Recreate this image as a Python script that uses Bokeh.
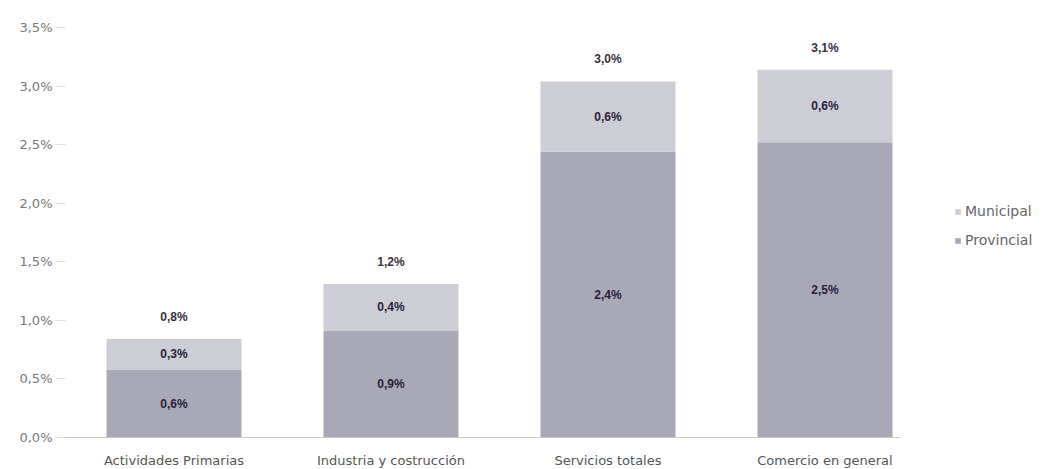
from bokeh.plotting import figure
from bokeh.models import ColumnDataSource, Range1d, FixedTicker, Legend, LegendItem
from bokeh.core.properties import value
from bokeh.embed import file_html
from bokeh.resources import INLINE

categories = ["Actividades Primarias", "Industria y costrucción", "Servicios totales", "Comercio en general"]
provincial = [0.58, 0.91, 2.44, 2.52]
municipal = [0.26, 0.40, 0.60, 0.62]
provincial_labels = ["0,6%", "0,9%", "2,4%", "2,5%"]
municipal_labels = ["0,3%", "0,4%", "0,6%", "0,6%"]
total_labels = ["0,8%", "1,2%", "3,0%", "3,1%"]
y_ticks = [0.0, 0.5, 1.0, 1.5, 2.0, 2.5, 3.0, 3.5]
y_tick_labels = ["0,0%", "0,5%", "1,0%", "1,5%", "2,0%", "2,5%", "3,0%", "3,5%"]

FONT = "Liberation Sans"
WFONT = "DejaVu Sans"
C_PROV = "#a8a8b6"
C_MUNI = "#cdcdd5"
C_LBL = "#2a1d3a"

x = list(range(len(categories)))
total = [p + m for p, m in zip(provincial, municipal)]
src = ColumnDataSource(dict(
    x=x, prov=provincial, muni=municipal, top=total,
    prov_mid=[p / 2 for p in provincial],
    muni_mid=[p + m / 2 for p, m in zip(provincial, municipal)],
    pl=provincial_labels, ml=municipal_labels, tl=total_labels,
))

p = figure(frame_width=845, frame_height=410, output_backend="svg", toolbar_location=None,
           x_range=Range1d(-0.546, 3.348), y_range=Range1d(0, 3.5),
           min_border_left=55, min_border_top=27, min_border_bottom=31, min_border_right=142)
p.outline_line_color = None
p.grid.grid_line_color = None

bw = 0.622
r_prov = p.vbar(x="x", bottom=0, top="prov", width=bw, source=src, fill_color=C_PROV, line_color=None)
r_muni = p.vbar(x="x", bottom="prov", top="top", width=bw, source=src, fill_color=C_MUNI, line_color=None)

tstyle = dict(text_font=value(FONT), text_font_size="12px", text_font_style="bold", text_color=C_LBL,
              text_align="center", text_baseline="middle")
p.text(x="x", y="prov_mid", text="pl", source=src, **tstyle)
p.text(x="x", y="muni_mid", text="ml", source=src, **tstyle)
p.text(x="x", y="top", text="tl", source=src, y_offset=-22, text_font=value(FONT), text_font_size="12px",
       text_font_style="bold", text_color="#3a3040", text_align="center", text_baseline="middle")

# axes
p.yaxis.ticker = FixedTicker(ticks=y_ticks)
p.yaxis.major_label_overrides = {t: l for t, l in zip(y_ticks, y_tick_labels)}
p.yaxis.axis_line_color = None
p.yaxis.major_tick_line_color = "#dddddd"
p.yaxis.major_tick_out = 0
p.yaxis.major_tick_in = 10
p.yaxis.minor_tick_line_color = None
p.yaxis.major_label_text_font = WFONT
p.yaxis.major_label_text_font_size = "13px"
p.yaxis.major_label_text_color = "#777777"
p.yaxis.major_label_standoff = 3

p.xaxis.ticker = FixedTicker(ticks=x)
p.xaxis.major_label_overrides = {i: c for i, c in zip(x, categories)}
p.xaxis.axis_line_color = "#c9c9bf"
p.xaxis.major_tick_line_color = None
p.xaxis.minor_tick_line_color = None
p.xaxis.major_label_text_font = WFONT
p.xaxis.major_label_text_font_size = "13px"
p.xaxis.major_label_text_color = "#555555"
p.xaxis.major_label_standoff = 9

legend = Legend(items=[LegendItem(label="Municipal", renderers=[r_muni]),
                       LegendItem(label="Provincial", renderers=[r_prov])],
                location=(54, 189), border_line_color=None, background_fill_alpha=0,
                glyph_width=7, glyph_height=7, label_text_font=WFONT, label_text_font_size="14px",
                label_text_color="#666666", spacing=13, label_standoff=4, padding=4, margin=0)
p.add_layout(legend, "right")

open("out.html", "w").write(file_html(p, INLINE))
